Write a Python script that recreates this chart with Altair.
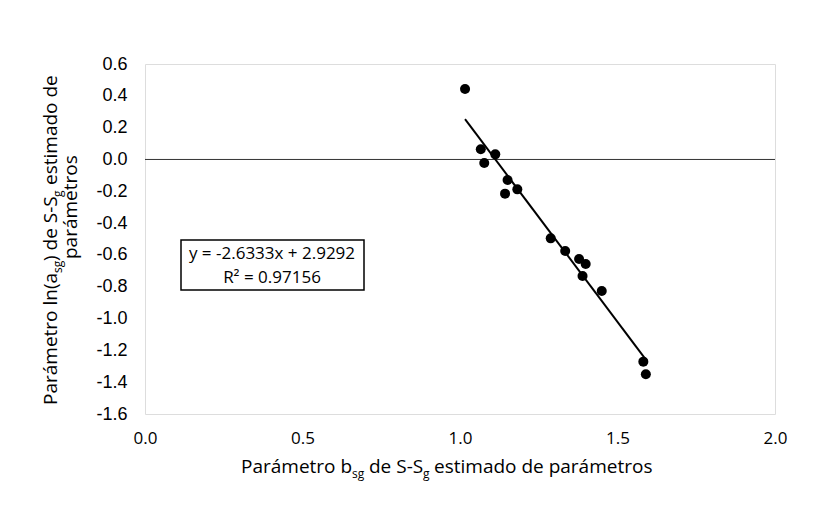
import altair as alt
import pandas as pd

# ---- data ----
b_sg = [1.016, 1.066, 1.077, 1.112, 1.151, 1.143, 1.182, 1.288, 1.334,
        1.378, 1.399, 1.389, 1.450, 1.582, 1.590]
ln_a_sg = [0.443, 0.064, -0.022, 0.032, -0.129, -0.215, -0.188, -0.496, -0.575,
           -0.626, -0.657, -0.733, -0.827, -1.271, -1.350]
slope = -2.6333
intercept = 2.9292
r_squared = 0.97156
x_ticks = [0.0, 0.5, 1.0, 1.5, 2.0]
y_ticks = [-1.6, -1.4, -1.2, -1.0, -0.8, -0.6, -0.4, -0.2, 0.0, 0.2, 0.4, 0.6]

SANS = "Open Sans"
ARIAL = "Liberation Sans"

pts = pd.DataFrame({"b": b_sg, "lna": ln_a_sg})
xmin, xmax = min(b_sg), max(b_sg)
fit = pd.DataFrame({"b": [xmin, xmax],
                    "lna": [slope * xmin + intercept, slope * xmax + intercept]})
zero = pd.DataFrame({"z": [0.0]})
one = pd.DataFrame({"k": [0]})

xs = alt.Scale(domain=[0, 2], nice=False, zero=False)
ys = alt.Scale(domain=[-1.6, 0.6], nice=False, zero=False)

x_axis = alt.Axis(values=x_ticks, format=".1f", title=None, grid=False, domain=False,
                  ticks=False, labelFont=SANS, labelFontSize=17, labelColor="black",
                  labelPadding=16, labelFlush=False, labelOverlap=False)
y_axis = alt.Axis(values=y_ticks, title=None, grid=False, domain=False, ticks=False,
                  labelExpr="replace(format(datum.value, '.1f'), '\u2212', '-')",
                  labelFont=ARIAL, labelFontSize=18, labelColor="black",
                  labelPadding=18, labelFlush=False, labelOverlap=False)

zero_rule = alt.Chart(zero).mark_rule(color="#333333", strokeWidth=1).encode(
    y=alt.Y("z:Q", scale=ys, axis=y_axis))
fit_line = alt.Chart(fit).mark_line(color="black", strokeWidth=2).encode(
    x=alt.X("b:Q", scale=xs, axis=x_axis), y=alt.Y("lna:Q", scale=ys, axis=y_axis))
points = alt.Chart(pts).mark_circle(size=100, color="black", opacity=1).encode(
    x=alt.X("b:Q", scale=xs, axis=x_axis),
    y=alt.Y("lna:Q", scale=ys, axis=y_axis),
)

box = alt.Chart(one).mark_rect(fill="white", stroke="black", strokeWidth=1.5).encode(
    x=alt.value(36), x2=alt.value(219), y=alt.value(176), y2=alt.value(226))
eq1 = alt.Chart(one).mark_text(font=SANS, fontSize=17, color="black", align="center",
                               baseline="middle").encode(
    x=alt.value(127), y=alt.value(190),
    text=alt.value(f"y = {slope}x + {intercept}"))
eq2 = alt.Chart(one).mark_text(font=SANS, fontSize=17, color="black", align="center",
                               baseline="middle").encode(
    x=alt.value(127), y=alt.value(214),
    text=alt.value(f"R\u00b2 = {r_squared}"))

layers = [zero_rule, fit_line, points, box, eq1, eq2]

# x-axis title with subscripts (segments, pixel offsets from plot origin)
TS = 19
SUB = 12
x_title = [("Parámetro b", 96, 409, TS), ("sg", 207, 414, SUB), ("de S-S", 224, 409, TS),
           ("g", 278, 414, SUB), ("estimado de parámetros", 289, 409, TS)]
for t, px, py, fs in x_title:
    layers.append(alt.Chart(one).mark_text(font=SANS, fontSize=fs, color="black",
                                           align="left", baseline="alphabetic").encode(
        x=alt.value(px), y=alt.value(py), text=alt.value(t)))

# y-axis title (rotated) with subscripts
y_title = [("Parámetro ln(a", -88, 341, TS), ("sg", -83, 209, SUB), (") de S-S", -88, 197, TS),
           ("g", -83, 133, SUB), ("estimado de", -88, 121, TS), ("parámetros", -68, 195, TS)]
for t, px, py, fs in y_title:
    layers.append(alt.Chart(one).mark_text(font=SANS, fontSize=fs, color="black",
                                           align="left", baseline="alphabetic",
                                           angle=270).encode(
        x=alt.value(px), y=alt.value(py), text=alt.value(t)))

chart = alt.layer(*layers).properties(
    width=630, height=350,
    autosize=alt.AutoSizeParams(type="none"),
    padding={"left": 137, "top": 56, "right": 48, "bottom": 107},
).configure_view(stroke="black", strokeWidth=1.5).configure_axis(
    labelOverlap=False, labelFlush=False
).configure(background="white")

chart.save("out.html", embed_options={"renderer": "svg", "actions": False})
